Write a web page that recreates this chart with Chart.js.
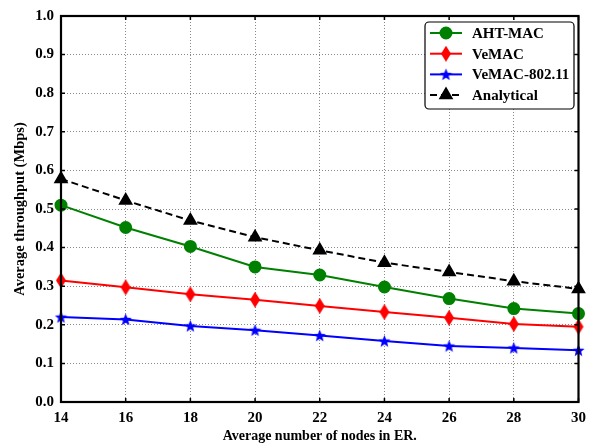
<!DOCTYPE html>
<html>
<head>
<meta charset="utf-8">
<script src="https://cdn.jsdelivr.net/npm/chart.js@4.4.1/dist/chart.umd.min.js"></script>
<style>
  html, body { margin: 0; padding: 0; background: #fff; }
  #wrap { width: 593px; height: 445px; }
</style>
</head>
<body>
<div id="wrap"><canvas id="chart" width="593" height="445"></canvas></div>
<script>
// Data
const nodes = [14, 16, 18, 20, 22, 24, 26, 28, 30];
const ahtMac = [0.510, 0.452, 0.403, 0.350, 0.329, 0.298, 0.268, 0.242, 0.229];
const veMac = [0.315, 0.297, 0.279, 0.265, 0.249, 0.233, 0.218, 0.202, 0.195];
const veMac80211 = [0.220, 0.214, 0.197, 0.186, 0.172, 0.158, 0.145, 0.140, 0.134];
const analytical = [0.578, 0.522, 0.470, 0.427, 0.393, 0.361, 0.337, 0.313, 0.293];
const seriesNames = ['AHT-MAC', 'VeMAC', 'VeMAC-802.11', 'Analytical'];

const FONT = '"Liberation Serif", "Times New Roman", serif';

// Custom marker images: tall diamond and filled star
function makeDiamond(color) {
    const c = document.createElement('canvas');
    c.width = 12; c.height = 16;
    const g = c.getContext('2d');
    g.fillStyle = color;
    g.beginPath();
    g.moveTo(6, 0); g.lineTo(11, 8); g.lineTo(6, 16); g.lineTo(1, 8);
    g.closePath();
    g.fill();
    return c;
}

function makeStar(color) {
    const c = document.createElement('canvas');
    c.width = 13; c.height = 13;
    const g = c.getContext('2d');
    g.fillStyle = color;
    g.beginPath();
    for (let i = 0; i < 10; i++) {
        const r = i % 2 === 0 ? 6.5 : 2.8;
        const a = -Math.PI / 2 + i * Math.PI / 5;
        const px = 6.5 + r * Math.cos(a), py = 7 + r * Math.sin(a);
        if (i === 0) g.moveTo(px, py); else g.lineTo(px, py);
    }
    g.closePath();
    g.fill();
    return c;
}

const diamondImg = makeDiamond('#ff0000');
const starImg = makeStar('#0000ff');

function toPoints(arr) {
    return arr.map((v, i) => ({ x: nodes[i], y: v }));
}

// Frame, inward ticks and legend box
const framePlugin = {
    id: 'frame',
    afterDraw(chart) {
        const { ctx, chartArea: a, scales } = chart;
        ctx.save();
        ctx.strokeStyle = '#000';
        ctx.lineWidth = 1.5;
        scales.x.ticks.forEach(t => {
            const px = scales.x.getPixelForValue(t.value);
            ctx.beginPath();
            ctx.moveTo(px, a.bottom); ctx.lineTo(px, a.bottom - 4);
            ctx.moveTo(px, a.top); ctx.lineTo(px, a.top + 4);
            ctx.stroke();
        });
        scales.y.ticks.forEach(t => {
            const py = scales.y.getPixelForValue(t.value);
            ctx.beginPath();
            ctx.moveTo(a.left, py); ctx.lineTo(a.left + 4, py);
            ctx.moveTo(a.right, py); ctx.lineTo(a.right - 4, py);
            ctx.stroke();
        });
        ctx.lineWidth = 2.2;
        ctx.strokeRect(a.left, a.top, a.right - a.left, a.bottom - a.top);

        // legend
        const lx = 425, ly = 22, lw = 149, lh = 87;
        ctx.fillStyle = '#fff';
        ctx.lineWidth = 1.2;
        ctx.beginPath();
        ctx.roundRect(lx, ly, lw, lh, 4);
        ctx.fill();
        ctx.stroke();
        const ds = chart.data.datasets;
        ds.forEach((d, i) => {
            const y = 33 + i * 20.7;
            ctx.strokeStyle = d.borderColor;
            ctx.lineWidth = 2;
            ctx.setLineDash(d.borderDash || []);
            ctx.beginPath();
            ctx.moveTo(430, y); ctx.lineTo(462, y);
            ctx.stroke();
            ctx.setLineDash([]);
            const ps = d.pointStyle;
            if (ps instanceof HTMLCanvasElement) {
                ctx.drawImage(ps, 446 - ps.width / 2, y - ps.height / 2);
            } else {
                Chart.helpers.drawPoint(ctx, {
                    pointStyle: ps, radius: d.pointRadius, borderWidth: 1
                }, 446, y);
                ctx.fillStyle = d.backgroundColor;
                ctx.fill();
            }
            ctx.fillStyle = '#000';
            ctx.font = 'bold 15px ' + FONT;
            ctx.textBaseline = 'middle';
            ctx.fillText(seriesNames[i], 472, y + 1);
        });
        ctx.restore();
    }
};

new Chart(document.getElementById('chart'), {
    type: 'line',
    data: {
        datasets: [
            {
                label: seriesNames[0], data: toPoints(ahtMac),
                borderColor: '#008000', backgroundColor: '#008000',
                pointStyle: 'circle', pointRadius: 5.5, borderWidth: 2
            },
            {
                label: seriesNames[1], data: toPoints(veMac),
                borderColor: '#ff0000', backgroundColor: '#ff0000',
                pointStyle: diamondImg, borderWidth: 2
            },
            {
                label: seriesNames[2], data: toPoints(veMac80211),
                borderColor: '#0000ff', backgroundColor: '#0000ff',
                pointStyle: starImg, borderWidth: 2
            },
            {
                label: seriesNames[3], data: toPoints(analytical),
                borderColor: '#000', backgroundColor: '#000',
                pointStyle: 'triangle', pointRadius: 6.5, borderWidth: 2,
                borderDash: [7, 4]
            }
        ]
    },
    options: {
        responsive: false,
        animation: false,
        clip: false,
        layout: { padding: { top: 15, right: 11, left: 0, bottom: 0 } },
        plugins: { legend: { display: false }, tooltip: { enabled: false } },
        scales: {
            x: {
                type: 'linear', min: 14, max: 30,
                afterFit(s) { s.height = 43; },
                ticks: {
                    stepSize: 2, color: '#000', padding: 7,
                    font: { family: FONT, size: 15, weight: 'bold' }
                },
                grid: { color: '#888', lineWidth: 1, drawTicks: false },
                border: { display: false, dash: [1, 2] },
                title: {
                    display: true, text: 'Average number of nodes in ER.', color: '#000',
                    font: { family: FONT, size: 14, weight: 'bold' }, padding: { top: 3, bottom: 0 }
                }
            },
            y: {
                min: 0, max: 1,
                afterFit(s) { s.width = 61; },
                ticks: {
                    stepSize: 0.1, color: '#000', padding: 7,
                    callback: v => v.toFixed(1),
                    font: { family: FONT, size: 15, weight: 'bold' }
                },
                grid: { color: '#888', lineWidth: 1, drawTicks: false },
                border: { display: false, dash: [1, 2] },
                title: {
                    display: true, text: 'Average throughput (Mbps)', color: '#000',
                    font: { family: FONT, size: 14.5, weight: 'bold' }, padding: { top: 12, bottom: 0 }
                }
            }
        }
    },
    plugins: [framePlugin]
});
</script>
</body>
</html>
